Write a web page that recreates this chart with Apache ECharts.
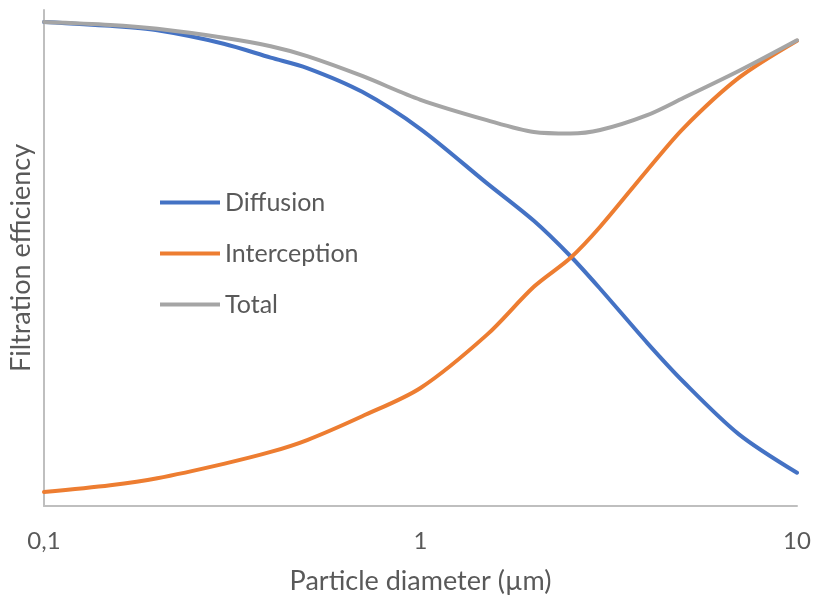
<!DOCTYPE html>
<html>
<head>
<meta charset="utf-8">
<script src="https://cdn.jsdelivr.net/npm/echarts@6/dist/echarts.min.js"></script>
<style>
  html, body { margin: 0; padding: 0; background: #fff; }
  #chart { width: 814px; height: 600px; }
</style>
</head>
<body>
<div id="chart"></div>
<script>
// particle diameter (µm)
const sizes = [0.1, 0.15, 0.2, 0.3, 0.4, 0.5, 0.7, 1, 1.5, 2, 2.5, 3, 4, 5, 7, 10];
// efficiency (0..100, no scale shown)
const diffusion = [97.6, 96.8, 95.9, 93.2, 90.4, 88.3, 83.5, 76.0, 65.1, 57.5, 50.4, 43.8, 32.9, 25.0, 14.5, 6.7];
const interception = [2.8, 4.2, 5.6, 8.5, 10.9, 13.3, 18.1, 23.8, 34.5, 44.2, 50.0, 56.3, 67.7, 76.2, 86.3, 93.8];
const total = [97.6, 97.0, 96.2, 94.4, 92.7, 90.7, 86.7, 81.9, 77.8, 75.4, 75.1, 75.8, 78.8, 82.3, 87.7, 93.9];

const seriesNames = ['Diffusion', 'Interception', 'Total'];
const seriesColors = ['#4472C4', '#ED7D31', '#A5A5A5'];
const seriesValues = [diffusion, interception, total];

const chart = echarts.init(document.getElementById('chart'));
const font = 'Lato, Open Sans, sans-serif';

const option = {
    animation: false,
    grid: {
        left: 44,
        right: 17,
        top: 10,
        bottom: 94,
        outerBoundsMode: 'none'
    },
    legend: {
        orient: 'vertical',
        left: 155,
        top: 184,
        icon: 'rect',
        itemWidth: 60,
        itemHeight: 4,
        itemGap: 24,
        data: seriesNames,
        textStyle: {
            fontFamily: font,
            fontSize: 25,
            color: '#595959',
            lineHeight: 27
        }
    },
    xAxis: {
        type: 'log',
        logBase: 10,
        min: 0.1,
        max: 10,
        name: 'Particle diameter (µm)',
        nameLocation: 'middle',
        nameGap: 62,
        nameTextStyle: {
            fontFamily: font,
            fontSize: 27,
            color: '#595959'
        },
        axisLine: {
            show: true,
            lineStyle: { color: '#BFBFBF', width: 2 }
        },
        axisTick: { show: false },
        splitLine: { show: false },
        axisLabel: {
            margin: 23,
            fontFamily: font,
            fontSize: 24,
            color: '#595959',
            formatter: function (v) {
                return String(+v.toPrecision(3)).replace('.', ',');
            }
        }
    },
    yAxis: {
        type: 'value',
        min: 0,
        max: 100,
        name: 'Filtration efficiency',
        nameLocation: 'middle',
        nameGap: 9,
        nameRotate: 90,
        nameTextStyle: {
            fontFamily: font,
            fontSize: 27,
            color: '#595959'
        },
        axisLine: {
            show: true,
            lineStyle: { color: '#BFBFBF', width: 2 }
        },
        axisTick: { show: false },
        axisLabel: { show: false },
        splitLine: { show: false }
    },
    series: seriesNames.map(function (name, i) {
        return {
            name: name,
            type: 'line',
            smooth: 0.3,
            showSymbol: false,
            color: seriesColors[i],
            lineStyle: { width: 4, color: seriesColors[i], cap: 'round' },
            data: sizes.map(function (d, k) { return [d, seriesValues[i][k]]; })
        };
    })
};

chart.setOption(option);
</script>
</body>
</html>
